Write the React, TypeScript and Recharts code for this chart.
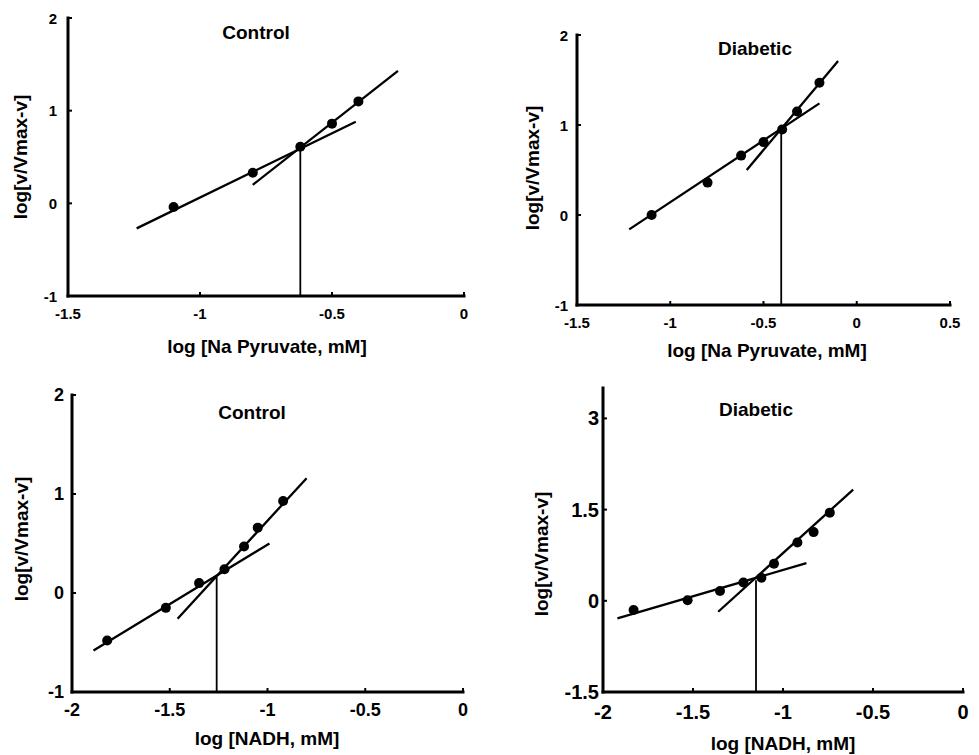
import { ScatterChart, Scatter, XAxis, YAxis } from 'recharts';

// ---- Na pyruvate, control ----
const pyrCtlX = [-1.1, -0.8, -0.62, -0.5, -0.4];
const pyrCtlY = [-0.04, 0.33, 0.61, 0.86, 1.1];
const pyrCtlLow = [{ x: -1.24, y: -0.27 }, { x: -0.41, y: 0.88 }];
const pyrCtlHigh = [{ x: -0.8, y: 0.2 }, { x: -0.25, y: 1.43 }];
const pyrCtlDrop = [{ x: -0.62, y: 0.6 }, { x: -0.62, y: -1 }];

// ---- Na pyruvate, diabetic ----
const pyrDiaX = [-1.1, -0.8, -0.62, -0.5, -0.4, -0.32, -0.2];
const pyrDiaY = [0, 0.36, 0.66, 0.81, 0.95, 1.15, 1.47];
const pyrDiaLow = [{ x: -1.22, y: -0.16 }, { x: -0.2, y: 1.24 }];
const pyrDiaHigh = [{ x: -0.59, y: 0.5 }, { x: -0.1, y: 1.71 }];
const pyrDiaDrop = [{ x: -0.405, y: 0.94 }, { x: -0.405, y: -1 }];

// ---- NADH, control ----
const nadhCtlX = [-1.82, -1.52, -1.35, -1.22, -1.12, -1.05, -0.92];
const nadhCtlY = [-0.48, -0.15, 0.1, 0.24, 0.47, 0.66, 0.93];
const nadhCtlLow = [{ x: -1.89, y: -0.58 }, { x: -0.99, y: 0.5 }];
const nadhCtlHigh = [{ x: -1.46, y: -0.26 }, { x: -0.8, y: 1.16 }];
const nadhCtlDrop = [{ x: -1.26, y: 0.16 }, { x: -1.26, y: -1 }];

// ---- NADH, diabetic ----
const nadhDiaX = [-1.83, -1.53, -1.35, -1.22, -1.12, -1.05, -0.92, -0.83, -0.74];
const nadhDiaY = [-0.15, 0.01, 0.16, 0.3, 0.38, 0.61, 0.96, 1.13, 1.45];
const nadhDiaLow = [{ x: -1.92, y: -0.29 }, { x: -0.87, y: 0.62 }];
const nadhDiaHigh = [{ x: -1.36, y: -0.18 }, { x: -0.61, y: 1.83 }];
const nadhDiaDrop = [{ x: -1.15, y: 0.34 }, { x: -1.15, y: -1.5 }];

const pyrXTicks = [-1.5, -1, -0.5, 0];
const pyrDiaXTicks = [-1.5, -1, -0.5, 0, 0.5];
const nadhXTicks = [-2, -1.5, -1, -0.5, 0];
const yTicks = [-1, 0, 1, 2];
const nadhDiaYTicks = [-1.5, 0, 1.5, 3];

const FONT = '"Liberation Sans", Arial, sans-serif';
const YW = 60;
const MT = 20;
const MR = 20;
const XH = 40;

const toPoints = (xs: number[], ys: number[]) => xs.map((x, i) => ({ x, y: ys[i] }));

interface PanelProps {
  rect: { x0: number; x1: number; y0: number; y1: number };
  xDomain: [number, number];
  xTicks: number[];
  yDomain: [number, number];
  yTicks: number[];
  points: { x: number; y: number }[];
  low: { x: number; y: number }[];
  high: { x: number; y: number }[];
  drop: { x: number; y: number }[];
  tickFont: number;
  xGap: number;
  yGap: number;
}

const noShape = () => <g />;
const dot = (p: any) => <circle cx={p.cx} cy={p.cy} r={5} fill="#000" />;

function Panel({ rect, xDomain, xTicks, yDomain, yTicks, points, low, high, drop, tickFont, xGap, yGap }: PanelProps) {
  const w = rect.x1 - rect.x0 + YW + MR;
  const h = rect.y1 - rect.y0 + MT + XH;

  const xTick = (p: any) => (
    <text x={p.x} y={p.y} textAnchor="middle" dominantBaseline="central"
      fontSize={tickFont} fontWeight="bold" fontFamily={FONT} fill="#000">
      {p.payload.value}
    </text>
  );
  const yTick = (p: any) => (
    <text x={p.x} y={p.y} textAnchor="end" dominantBaseline="central"
      fontSize={tickFont} fontWeight="bold" fontFamily={FONT} fill="#000">
      {p.payload.value}
    </text>
  );

  return (
    <div style={{ position: 'absolute', left: rect.x0 - YW, top: rect.y0 - MT }}>
      <ScatterChart width={w} height={h} margin={{ top: MT, right: MR, bottom: 0, left: 0 }}>
        <XAxis type="number" dataKey="x" domain={xDomain} ticks={xTicks} allowDataOverflow
          height={XH} tickSize={-4} tickMargin={xGap + 4} tick={xTick}
          axisLine={{ stroke: '#000', strokeWidth: 3, strokeLinecap: 'square' }}
          tickLine={{ stroke: '#000', strokeWidth: 2 }} />
        <YAxis type="number" dataKey="y" domain={yDomain} ticks={yTicks} allowDataOverflow
          width={YW} tickSize={-4} tickMargin={yGap + 4} tick={yTick}
          axisLine={{ stroke: '#000', strokeWidth: 3, strokeLinecap: 'square' }}
          tickLine={{ stroke: '#000', strokeWidth: 2 }} />
        <Scatter data={low} line={{ stroke: '#000', strokeWidth: 2.3 }} shape={noShape} isAnimationActive={false} />
        <Scatter data={high} line={{ stroke: '#000', strokeWidth: 2.3 }} shape={noShape} isAnimationActive={false} />
        <Scatter data={drop} line={{ stroke: '#000', strokeWidth: 1.8 }} shape={noShape} isAnimationActive={false} />
        <Scatter data={points} shape={dot} isAnimationActive={false} />
      </ScatterChart>
    </div>
  );
}

function Txt({ x, y, text, rotate }: { x: number; y: number; text: string; rotate?: boolean }) {
  return (
    <div
      style={{
        position: 'absolute',
        left: x,
        top: y,
        transform: `translate(-50%, -50%)${rotate ? ' rotate(-90deg)' : ''}`,
        whiteSpace: 'nowrap',
        fontFamily: FONT,
        fontWeight: 'bold',
        fontSize: 19,
        lineHeight: 1,
        color: '#000',
      }}
    >
      {text}
    </div>
  );
}

export default function App() {
  return (
    <div style={{ position: 'absolute', left: 0, top: 0, width: 979, height: 755, background: '#fff', overflow: 'hidden' }}>
      <Panel
        rect={{ x0: 68, x1: 464, y0: 18, y1: 296 }}
        xDomain={[-1.5, 0]} xTicks={pyrXTicks} yDomain={[-1, 2]} yTicks={yTicks}
        points={toPoints(pyrCtlX, pyrCtlY)} low={pyrCtlLow} high={pyrCtlHigh} drop={pyrCtlDrop}
        tickFont={15} xGap={17} yGap={11}
      />
      <Txt x={256} y={32} text="Control" />
      <Txt x={267} y={346} text="log [Na Pyruvate, mM]" />
      <Txt x={20} y={157} text="log[v/Vmax-v]" rotate />

      <Panel
        rect={{ x0: 577, x1: 950, y0: 35, y1: 305 }}
        xDomain={[-1.5, 0.5]} xTicks={pyrDiaXTicks} yDomain={[-1, 2]} yTicks={yTicks}
        points={toPoints(pyrDiaX, pyrDiaY)} low={pyrDiaLow} high={pyrDiaHigh} drop={pyrDiaDrop}
        tickFont={15} xGap={17} yGap={9}
      />
      <Txt x={755} y={48} text="Diabetic" />
      <Txt x={767} y={350} text="log [Na Pyruvate, mM]" />
      <Txt x={532} y={168} text="log[v/Vmax-v]" rotate />

      <Panel
        rect={{ x0: 72, x1: 463, y0: 395, y1: 692 }}
        xDomain={[-2, 0]} xTicks={nadhXTicks} yDomain={[-1, 2]} yTicks={yTicks}
        points={toPoints(nadhCtlX, nadhCtlY)} low={nadhCtlLow} high={nadhCtlHigh} drop={nadhCtlDrop}
        tickFont={18} xGap={18} yGap={8}
      />
      <Txt x={252} y={412} text="Control" />
      <Txt x={267} y={738} text="log [NADH, mM]" />
      <Txt x={21} y={539} text="log[v/Vmax-v]" rotate />

      <Panel
        rect={{ x0: 603, x1: 963, y0: 388, y1: 692 }}
        xDomain={[-2, 0]} xTicks={nadhXTicks} yDomain={[-1.5, 3.5]} yTicks={nadhDiaYTicks}
        points={toPoints(nadhDiaX, nadhDiaY)} low={nadhDiaLow} high={nadhDiaHigh} drop={nadhDiaDrop}
        tickFont={20} xGap={20} yGap={4}
      />
      <Txt x={756} y={409} text="Diabetic" />
      <Txt x={783} y={743} text="log [NADH, mM]" />
      <Txt x={541} y={554} text="log[v/Vmax-v]" rotate />
    </div>
  );
}
